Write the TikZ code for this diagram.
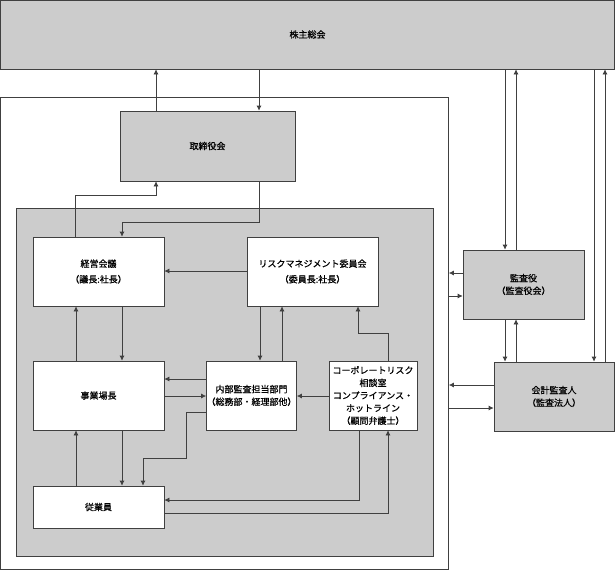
\documentclass[tikz,border=0pt]{standalone}
\usepackage{fontspec}
\setmainfont{Noto Sans CJK JP}[FakeBold=0.6]
\usetikzlibrary{arrows.meta}

\begin{document}
\begin{tikzpicture} [
                x=1pt, y=-1pt,
                font=\fontsize{9}{12.6}\selectfont,
                box/.style={draw=black!75,line width=0.7pt,inner sep=0pt,align=center},
                gray box/.style={box, fill=black!20},
                white box/.style={box, fill=white},
                link/.style={draw=black!75,line width=0.7pt,-{Latex[length=5pt,width=5pt]}},
            ]
            \useasboundingbox (0,0) rectangle (615,570);
            % First the frames
            \node[gray box, minimum width=614pt, minimum height=69pt] (soukai) at (307.5,34.5) {株主総会};
            \node[white box, minimum width=448pt, minimum height=472pt] (outer) at (224.5,333) {};
            \node[gray box, minimum width=417pt, minimum height=348pt] (inner) at (224.5,382) {};
            % Then the boxes
            \node[gray box, minimum width=175pt, minimum height=70pt] (torishimari) at (207.5,146) {取締役会};
            \node[white box, minimum width=131pt, minimum height=69pt] (keiei) at (98.5,271.5) {経営会議\\[3pt]（議長:社長）};
            \node[white box, minimum width=131pt, minimum height=69pt] (risk) at (312.5,271.5) {リスクマネジメント委員会\\[3pt]（委員長:社長）};
            \node[white box, minimum width=131pt, minimum height=69pt] (jigyou) at (98.5,395.5) {事業場長};
            \node[white box, minimum width=87pt, minimum height=69pt] (naibu) at (251.5,395.5) {内部監査担当部門\\（総務部・経理部他）};
            \node[white box, minimum width=88pt, minimum height=69pt] (corp) at (373,395.5) {コーポレートリスク\\相談室\\コンプライアンス・\\ホットライン\\（顧問弁護士）};
            \node[white box, minimum width=131pt, minimum height=42pt] (jugyoin) at (98.5,507) {従業員};
            \node[gray box, minimum width=121pt, minimum height=69pt] (kansa) at (523.5,284.5) {監査役\\（監査役会）};
            \node[gray box, minimum width=120pt, minimum height=69pt] (kaikei) at (554,396.5) {会計監査人\\（監査法人）};
            % Vertical connectors
            \foreach \x/\source/\dest in {
                    156/torishimari.north/soukai.south, 259/soukai.south/torishimari.north,
                    122/keiei.south/jigyou.north, 76/jigyou.north/keiei.south,
                    260/risk.south/naibu.north, 282/naibu.north/risk.south,
                    122/jigyou.south/jugyoin.north, 76/jugyoin.north/jigyou.south,
                    505/soukai.south/kansa.north, 516/kansa.north/soukai.south,
                    594/soukai.south/kaikei.north, 605/kaikei.north/soukai.south,
                    505/kansa.south/kaikei.north, 516/kaikei.north/kansa.south}
                \path[link] (\source -| \x,0) -- (\dest -| \x,0);
            % Horizontal connectors
            \foreach \y/\source/\dest in {
                    271/risk.west/keiei.east,
                    379/naibu.west/jigyou.east, 396/jigyou.east/naibu.west,
                    396/corp.west/naibu.east,
                    273/kansa.west/outer.east, 296/outer.east/kansa.west,
                    385/kaikei.west/outer.east, 408/outer.east/kaikei.west}
                \path[link] (\source |- 0,\y) -- (\dest |- 0,\y);
            % Bent connectors
            \path[link] (keiei.north -| 75,0) |- (156,195) -- (torishimari.south -| 156,0);
            \path[link] (torishimari.south -| 259,0) |- (122,222) -- (keiei.north -| 122,0);
            \path[link] (corp.north -| 388,0) |- (358,333) -- (risk.south -| 358,0);
            \path[link] (naibu.west |- 0,412) -| (186,458) -| (jugyoin.north -| 143,0);
            \path[link] (corp.south -| 359,0) |- (jugyoin.east |- 0,500);
            \path[link] (jugyoin.east |- 0,513) -| (corp.south -| 388,0);
        \end{tikzpicture}
\end{document}
